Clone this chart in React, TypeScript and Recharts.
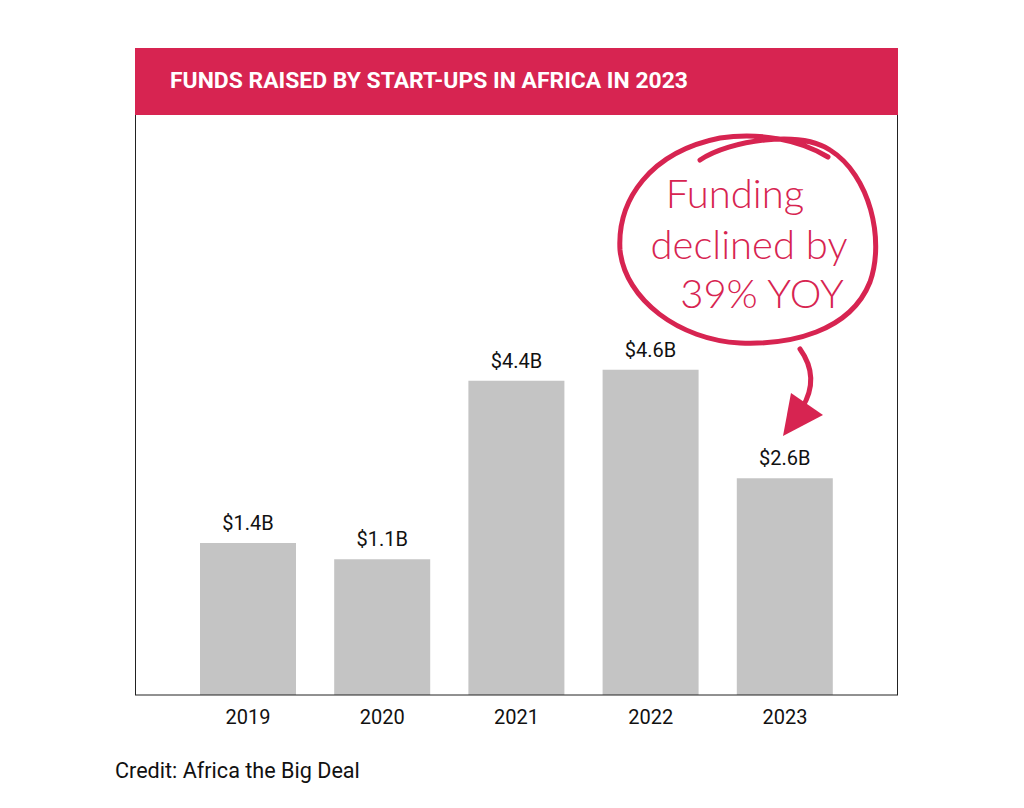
import React from 'react';
import { BarChart, Bar, XAxis, YAxis, LabelList, Customized } from 'recharts';

const years = ['2019', '2020', '2021', '2022', '2023'];
const fundsBillions = [1.4, 1.1, 4.4, 4.6, 2.6];
const titleText = 'FUNDS RAISED BY START-UPS IN AFRICA IN 2023';
const noteLines = ['Funding', 'declined by', '39% YOY'];
const creditText = 'Credit: Africa the Big Deal';

const Y_MIN = -1.405;
const Y_MAX = 9.306;
const RED = '#D72451';

const data = years.map((y, i) => ({ year: y, value: fundsBillions[i] }));

const Decor = () => (
  <g>
    <rect x={135} y={48} width={763} height={67} fill={RED} />
    <text x={170} y={88} fill="#fff" fontFamily="Roboto" fontWeight={700} fontSize={22.9}>
      {titleText}
    </text>
    <line x1={135.5} y1={115} x2={135.5} y2={695} stroke="#222" strokeWidth={1} />
    <line x1={897.5} y1={115} x2={897.5} y2={695} stroke="#222" strokeWidth={1} />
    <path
      d="M 700 160 C 730 140, 800 130, 830 150 C 870 175, 885 240, 870 282 C 850 332, 790 345, 740 343 C 680 340, 625 300, 620 250 C 617 200, 650 152, 720 138 C 760 132, 800 140, 828 157"
      fill="none" stroke={RED} strokeWidth={5} strokeLinecap="round" strokeLinejoin="round"
    />
    <path d="M 800 349 C 815 370, 813 390, 802 408" fill="none" stroke={RED} strokeWidth={5} strokeLinecap="round" />
    <polygon points="783,436 823,415 791,393" fill={RED} />
    <text x={735} y={208} textAnchor="middle" fill={RED} fontFamily="Lato" fontWeight={300} fontSize={40}>{noteLines[0]}</text>
    <text x={749} y={259} textAnchor="middle" fill={RED} fontFamily="Lato" fontWeight={300} fontSize={40}>{noteLines[1]}</text>
    <text x={762} y={308} textAnchor="middle" fill={RED} fontFamily="Lato" fontWeight={300} fontSize={40}>{noteLines[2]}</text>
    <text x={115} y={778} fill="#111" fontFamily="Roboto" fontSize={21.6}>{creditText}</text>
  </g>
);

export default function App() {
  return (
    <div style={{ position: 'absolute', left: 0, top: 0, width: 1024, height: 808, background: '#fff' }}>
      <BarChart
        width={1024}
        height={808}
        data={data}
        margin={{ top: 115, left: 135, right: 126, bottom: 0 }}
        barSize={96}
      >
        <XAxis
          dataKey="year"
          padding={{ left: 46, right: 46 }}
          axisLine={{ stroke: '#222', strokeWidth: 1 }}
          tickLine={false}
          tick={{ fill: '#111', fontSize: 20, fontFamily: 'Roboto' }}
          tickMargin={9}
          height={113}
        />
        <YAxis hide domain={[Y_MIN, Y_MAX]} type="number" allowDataOverflow />
        <Bar
          dataKey={(d: any) => [Y_MIN, d.value]}
          fill="#C4C4C4"
          isAnimationActive={false}
        >
          <LabelList
            dataKey="value"
            position="top"
            offset={13}
            formatter={(v: any) => `$${Number(v).toFixed(1)}B`}
            style={{ fill: '#111', fontSize: 20, fontFamily: 'Roboto' }}
          />
        </Bar>
        <Customized component={<Decor />} />
      </BarChart>
    </div>
  );
}
